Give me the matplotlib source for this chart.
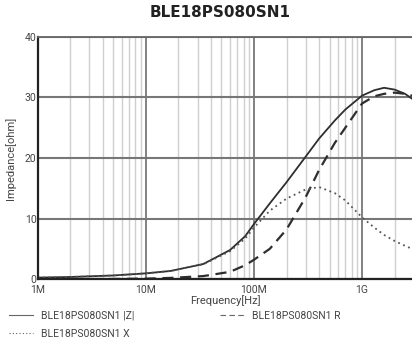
import matplotlib.pyplot as plt
from matplotlib.ticker import LogLocator, FixedLocator
import numpy as np

# frequency points (Hz)
freq = [1e6, 2e6, 5e6, 1e7, 1.7e7, 3.4e7, 6e7, 8.3e7, 1e8, 1.4e8, 2e8, 3e8,
        4e8, 5.6e8, 7e8, 1e9, 1.3e9, 1.6e9, 2e9, 2.5e9, 2.9e9]

z_abs = [0.25, 0.35, 0.6, 0.95, 1.35, 2.5, 4.8, 7.1, 9.1, 12.5, 16.0, 20.2,
         23.2, 26.2, 28.0, 30.3, 31.2, 31.6, 31.3, 30.6, 29.8]
r_val = [0.0, 0.0, 0.02, 0.08, 0.2, 0.5, 1.2, 2.3, 3.2, 5.0, 8.2, 13.5,
         18.0, 22.5, 25.0, 29.0, 30.2, 30.6, 30.8, 30.6, 30.3]
x_val = [0.25, 0.35, 0.6, 0.95, 1.35, 2.45, 4.6, 6.7, 8.5, 11.3, 13.3, 14.8,
         15.2, 14.2, 13.0, 10.2, 8.5, 7.3, 6.3, 5.5, 5.0]

y_ticks = [0, 10, 20, 30, 40]
x_ticks = [1e6, 1e7, 1e8, 1e9]
x_tick_labels = ['1M', '10M', '100M', '1G']

narrow = ['Roboto', 'DejaVu Sans']
ink = '#2e2e2e'

fig = plt.figure(figsize=(4.12, 3.45), dpi=100)
ax = fig.add_axes([0.092, 0.191, 0.908, 0.702])

ax.set_xscale('log')
ax.set_xlim(1e6, 2.9e9)
ax.set_ylim(0, 40)

# grid
ax.xaxis.set_minor_locator(LogLocator(base=10, subs=np.arange(2, 10)))
ax.grid(True, which='minor', axis='x', color='#cfcfcf', linewidth=1.0)
ax.grid(True, which='major', axis='x', color='#777777', linewidth=1.3)
ax.grid(True, which='major', axis='y', color='#777777', linewidth=1.5)
ax.set_axisbelow(True)

ax.plot(freq, z_abs, color=ink, linewidth=1.3, label='BLE18PS080SN1 |Z|')
ax.plot(freq, r_val, color=ink, linewidth=1.6, linestyle=(0, (5, 3)),
        label='BLE18PS080SN1 R')
ax.plot(freq, x_val, color='#555555', linewidth=1.3, linestyle=(0, (1, 2)),
        label='BLE18PS080SN1 X')

ax.xaxis.set_major_locator(FixedLocator(x_ticks))
ax.set_xticklabels(x_tick_labels)
ax.set_yticks(y_ticks)
ax.tick_params(which='both', length=0, labelsize=7.5, labelcolor='#444444')
ax.tick_params(axis='x', pad=4)
ax.tick_params(axis='y', pad=1)
for lab in ax.get_xticklabels() + ax.get_yticklabels():
    lab.set_family(narrow)

for side in ['left', 'bottom']:
    ax.spines[side].set_color('#222222')
    ax.spines[side].set_linewidth(1.6)
ax.spines['top'].set_color('#666666')
ax.spines['top'].set_linewidth(1.3)
ax.spines['right'].set_visible(False)

ax.set_xlabel('Frequency[Hz]', family=narrow, fontsize=8, color='#444444',
              labelpad=0)
ax.set_ylabel('Impedance[ohm]', family=narrow, fontsize=8, color='#444444',
              labelpad=6)

fig.suptitle('BLE18PS080SN1', x=0.535, y=0.985, fontsize=11, fontweight='bold',
             color='#222222')

h, l = ax.get_legend_handles_labels()
order = [0, 2, 1]
leg = fig.legend([h[i] for i in order], [l[i] for i in order], ncol=2,
                 loc='lower left', bbox_to_anchor=(0.0, -0.01), frameon=False,
                 prop={'family': narrow, 'size': 7.5}, handlelength=2.3,
                 columnspacing=8.3, labelspacing=0.8, handletextpad=0.7)
for t in leg.get_texts():
    t.set_color('#444444')
for ln in leg.get_lines():
    ln.set_color('#666666')
    ln.set_linewidth(0.8)

fig.savefig('out.png', dpi=100)
